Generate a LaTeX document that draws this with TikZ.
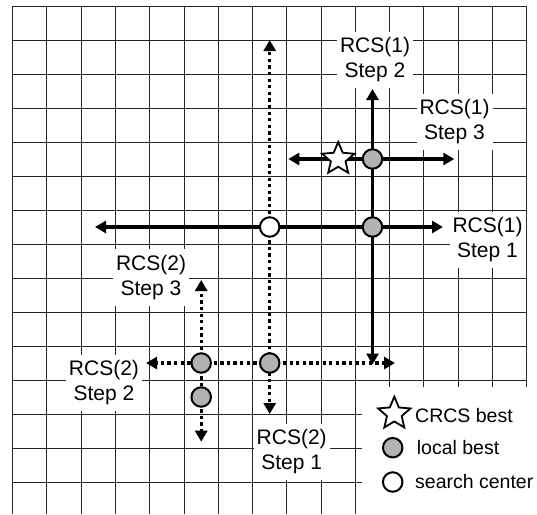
\documentclass[tikz,border=0pt]{standalone}
\usepackage{fontspec}
\setmainfont{Liberation Sans}
\usetikzlibrary{arrows.meta,shapes.geometric}
\begin{document}
\begin{tikzpicture}[x=1pt,y=-1pt,
  gridline/.style={draw=black!85,line width=1pt},
  lbl/.style={fill=white,align=center,inner xsep=3pt,inner ysep=6pt,font=\fontsize{21}{25}\selectfont},
  legtext/.style={anchor=west,inner sep=0pt,font=\fontsize{19.5}{23}\selectfont},
  solidarrow/.style={line width=3.2pt,-{Triangle[length=11pt,width=12pt]}},
  dotarrow/.style={line width=3.2pt,dash pattern=on 3.3pt off 3.3pt,-{Triangle[length=11pt,width=12pt]}},
  localbest/.style={circle,draw=black,line width=2pt,fill=black!30,minimum size=19.5pt,inner sep=0pt},
  searchcenter/.style={circle,draw=black,line width=2pt,fill=white,minimum size=19.5pt,inner sep=0pt},
  beststar/.style={star,star points=5,star point ratio=2.2,draw=black,line width=1.8pt,fill=white,minimum size=34pt,inner sep=0pt}]
\useasboundingbox (0,0) rectangle (537,514);
% grid
\foreach \i in {0,...,15} \draw[gridline] ({12.7+34.27*\i},6) -- ({12.7+34.27*\i},514);
\foreach \j in {0,...,14} \draw[gridline] (12.7,{6+34*\j}) -- (526.7,{6+34*\j});
% legend background
\fill[white] (361.7,386.7) rectangle (537,514);
% labels
\node[lbl] (l12) at (375,60) {RCS(1)\\Step 2};
\node[lbl] (l13) at (454.5,122) {RCS(1)\\Step 3};
\node[lbl] (l11) at (487.5,240) {RCS(1)\\Step 1};
\node[lbl] (l23) at (151,277.5) {RCS(2)\\Step 3};
\node[lbl] (l22) at (104,383) {RCS(2)\\Step 2};
\node[lbl] (l21) at (291.7,452) {RCS(2)\\Step 1};
% points
\coordinate (c) at (269.7,227);
\coordinate (g1) at (372.5,227);
\coordinate (g2) at (372.5,159);
\coordinate (g3) at (269.7,363);
\coordinate (g4) at (201.2,363);
\coordinate (g5) at (201.2,397);
\coordinate (s) at (338.2,159);
% arrow ends
\coordinate (a1l) at (95,227);
\coordinate (a1r) at (443,227);
\coordinate (a2u) at (372.5,89);
\coordinate (a2d) at (372.5,364.5);
\coordinate (a3l) at (288.3,159);
\coordinate (a3r) at (454.3,159);
\coordinate (b1u) at (269.7,40);
\coordinate (b1d) at (269.7,414);
\coordinate (b2l) at (146,363);
\coordinate (b2r) at (395,363);
\coordinate (b3u) at (201.2,280);
\coordinate (b3d) at (201.2,441.7);
% RCS(2) dotted arrows
\draw[dotarrow] (c) -- (b1u);
\draw[dotarrow] (c) -- (b1d);
\draw[dotarrow] (g3) -- (b2l);
\draw[dotarrow] (g3) -- (b2r);
\draw[dotarrow] (g4) -- (b3u);
\draw[dotarrow] (g4) -- (b3d);
% RCS(1) solid arrows
\draw[solidarrow] (c) -- (a1l);
\draw[solidarrow] (c) -- (a1r);
\draw[solidarrow] (g1) -- (a2u);
\draw[solidarrow] (g1) -- (a2d);
\draw[solidarrow] (g2) -- (a3l);
\draw[solidarrow] (g2) -- (a3r);
% markers
\node[searchcenter] (nc) at (c) {};
\node[localbest] (n1) at (g1) {};
\node[localbest] (n2) at (g2) {};
\node[localbest] (n3) at (g3) {};
\node[localbest] (n4) at (g4) {};
\node[localbest] (n5) at (g5) {};
\node[beststar] (ns) at (s) {};
% legend
\node[beststar] (ls) at (394.3,413.7) {};
\node[legtext] (lst) at (415,416) {CRCS best};
\node[localbest] (lg) at (392.7,447.7) {};
\node[legtext] (lgt) at (416.7,447.7) {local best};
\node[searchcenter] (lc) at (392.7,482) {};
\node[legtext] (lct) at (415,482) {search center};
\end{tikzpicture}
\end{document}
